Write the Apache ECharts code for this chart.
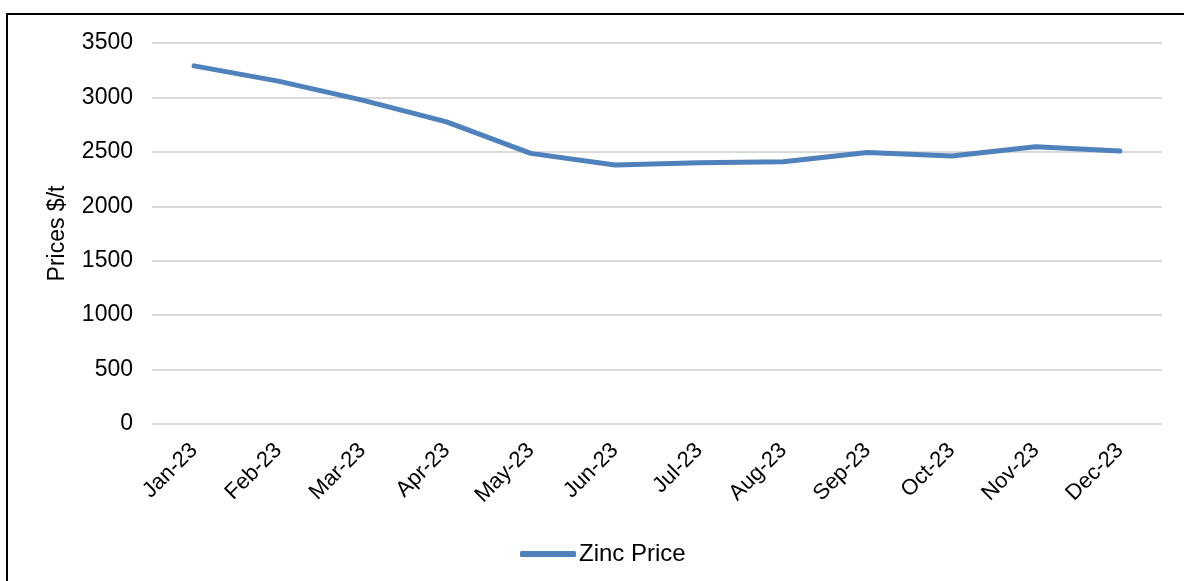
<!DOCTYPE html>
<html>
  <head>
    <meta charset="utf-8" />
    <title>Zinc Price</title>
    <script src="https://cdn.jsdelivr.net/npm/echarts@6.0.0/dist/echarts.min.js"></script>
    <style>
      body {
        margin: 0;
        background: #fff;
      }
      #frame {
        position: absolute;
        left: 6px;
        top: 13px;
        width: 1200px;
        height: 600px;
        border: 2px solid #000;
      }
      #main {
        position: absolute;
        left: 0;
        top: 0;
        width: 1184px;
        height: 581px;
      }
    </style>
  </head>
<body>
  <div id="frame"></div>
  <div id="main"></div>

  <script type="text/javascript">
var months = ['Jan-23', 'Feb-23', 'Mar-23', 'Apr-23', 'May-23', 'Jun-23',
              'Jul-23', 'Aug-23', 'Sep-23', 'Oct-23', 'Nov-23', 'Dec-23'];
var zincPrice = [3290, 3150, 2975, 2776, 2486, 2379, 2400, 2409, 2495, 2461, 2546, 2507];
var yTicks = [0, 3500, 500];   // min, max, step

var chartDom = document.getElementById('main');
var myChart = echarts.init(chartDom);
var font = 'Liberation Sans, Arial, sans-serif';

var option = {
  animation: false,
  textStyle: { fontFamily: font },
  grid: {
    left: 152,
    right: 22,
    top: 43,
    bottom: 157
  },
  legend: {
    data: ['Zinc Price'],
    left: 515,
    top: 537,
    icon: 'roundRect',
    itemWidth: 56,
    itemHeight: 6,
    itemGap: 10,
    textStyle: {
      fontFamily: font,
      fontSize: 24,
      color: '#000',
      padding: [0, 0, 0, -2]
    }
  },
  xAxis: {
    type: 'category',
    data: months,
    boundaryGap: true,
    axisLine: { show: false },
    axisTick: { show: false },
    axisLabel: {
      rotate: 45,
      margin: 23,
      interval: 0,
      fontFamily: font,
      fontSize: 22,
      color: '#000'
    }
  },
  yAxis: {
    type: 'value',
    min: yTicks[0],
    max: yTicks[1],
    interval: yTicks[2],
    name: 'Prices $/t',
    nameLocation: 'middle',
    nameGap: 83,
    nameTextStyle: {
      fontFamily: font,
      fontSize: 23,
      color: '#000'
    },
    axisLine: { show: false },
    axisTick: { show: false },
    axisLabel: {
      margin: 19,
      fontFamily: font,
      fontSize: 23,
      color: '#000',
      formatter: function (v) { return String(v); }
    },
    splitLine: {
      lineStyle: { color: '#d9d9d9', width: 2 }
    }
  },
  series: [
    {
      name: 'Zinc Price',
      type: 'line',
      data: zincPrice,
      symbol: 'none',
      itemStyle: { color: '#4f81bd' },
      lineStyle: {
        color: '#4f81bd',
        width: 5,
        cap: 'round',
        join: 'round'
      }
    }
  ]
};

option && myChart.setOption(option);
  </script>
</body>
</html>
